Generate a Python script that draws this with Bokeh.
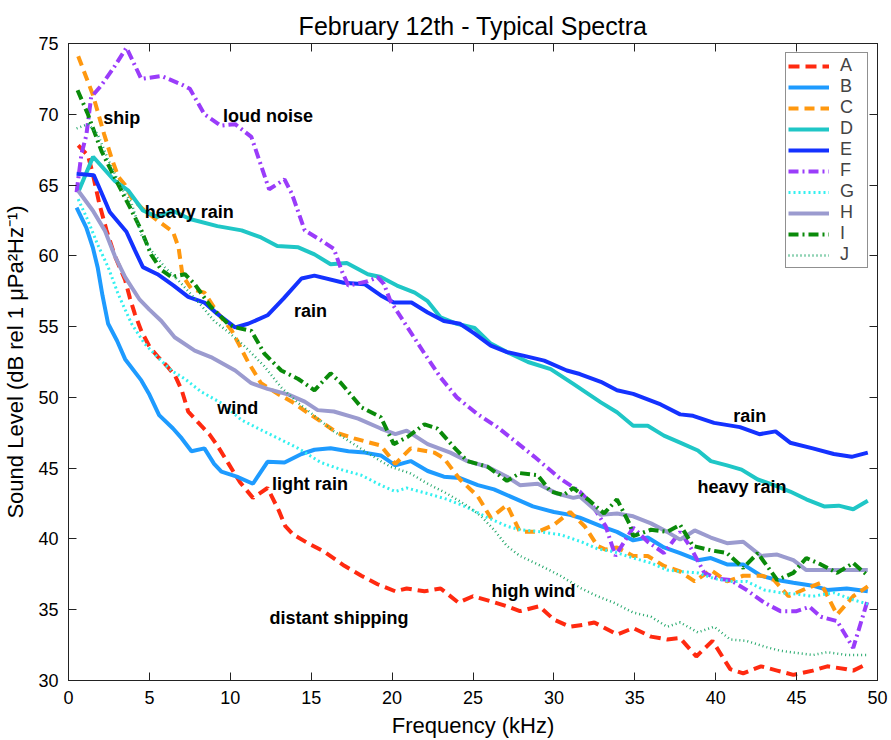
from bokeh.plotting import figure
from bokeh.models import LinearAxis, Range1d, SingleIntervalTicker, Label
from bokeh.embed import file_html
from bokeh.resources import INLINE

TITLE = "February 12th - Typical Spectra"
X_LABEL = "Frequency (kHz)"
Y_LABEL = "Sound Level (dB rel 1 \u03bcPa\u00b2Hz\u207b\u00b9)"

A_freq = [0.6, 1.2, 1.5, 1.9, 2.35, 2.86, 3.5, 3.8, 4.1, 4.5, 5.0, 5.5, 6.1, 6.6, 7.0, 7.4, 8.2, 8.7, 9.2, 9.9,
          10.6, 11.4, 12.3, 13.0, 13.4, 13.9, 14.8, 15.8, 17.05, 18.1, 19.1, 20.2, 20.9, 22.0, 23.0, 24.1, 25.0,
          26.1, 27.1, 27.9, 29.1, 30.0, 31.0, 31.9, 32.5, 33.9, 34.9, 36.0, 37.0, 37.8, 38.8, 39.8, 40.9, 41.7,
          42.8, 43.8, 44.8, 46.0, 46.9, 48.1, 48.5, 49.4]
A_level = [67.8, 67.1, 65.8, 63.7, 61.8, 60.0, 58.3, 57.0, 55.9, 54.7, 53.6, 52.9, 52.2, 51.5, 50.5, 49.0, 48.0, 47.4,
           46.6, 45.3, 44.0, 42.9, 43.6, 42.0, 40.9, 40.3, 39.7, 39.1, 38.1, 37.4, 36.8, 36.3, 36.5, 36.3, 36.5,
           35.5, 35.95, 35.6, 35.25, 34.9, 35.25, 34.3, 33.8, 33.95, 34.1, 33.25, 33.7, 33.1, 32.9, 33.0, 31.7,
           32.8, 30.8, 30.5, 31.0, 30.7, 30.4, 30.7, 31.0, 30.8, 30.7, 31.2]

B_freq = [0.5, 1.1, 1.5, 1.8, 2.1, 2.45, 3.0, 3.5, 4.5, 5.0, 5.6, 6.46, 7.0, 7.6, 8.4, 9.0, 9.45, 10.4, 11.4, 12.3,
          13.35, 14.4, 15.2, 16.2, 17.3, 18.3, 19.3, 20.2, 21.15, 22.2, 23.2, 24.2, 25.3, 26.3, 27.5, 28.7, 30.0,
          31.0, 31.6, 32.9, 33.9, 34.9, 35.8, 36.8, 37.8, 38.9, 39.7, 40.7, 41.7, 42.8, 43.8, 44.8, 46.0, 46.9,
          48.1, 49.4]
B_level = [63.4, 62.0, 60.6, 59.2, 57.2, 55.2, 54.0, 52.7, 51.2, 50.2, 48.75, 47.8, 47.1, 46.2, 46.4, 45.3, 44.75,
           44.4, 43.9, 45.45, 45.4, 46.0, 46.3, 46.4, 46.2, 46.1, 45.9, 45.2, 45.5, 44.8, 44.4, 44.3, 43.8, 43.5,
           42.9, 42.3, 41.9, 41.7, 41.5, 40.9, 40.5, 39.9, 40.1, 39.4, 39.0, 38.5, 38.65, 38.2, 38.2, 37.4, 37.1,
           36.9, 36.7, 36.4, 36.5, 36.3]

C_freq = [0.6, 1.5, 2.2, 2.65, 3.07, 3.5, 3.9, 4.6, 5.5, 6.46, 6.8, 7.05, 7.6, 8.4, 9.2, 10.1, 11.1, 11.9, 13.0,
          13.8, 14.8, 15.6, 16.6, 17.65, 19.3, 20.2, 21.15, 22.6, 23.2, 24.2, 25.3, 26.1, 27.1, 27.9, 29.0, 30.0,
          31.0, 31.9, 32.7, 33.2, 33.9, 34.9, 35.8, 36.8, 37.8, 38.7, 39.7, 40.7, 41.7, 42.9, 43.6, 44.5, 45.6,
          46.5, 47.5, 48.5, 49.4]
C_level = [74.1, 71.4, 68.6, 66.95, 65.6, 65.0, 64.1, 63.3, 62.5, 61.7, 60.6, 58.6, 57.65, 57.4, 56.0, 54.7, 52.5,
           51.0, 50.2, 49.7, 48.9, 48.3, 47.5, 47.1, 46.6, 45.3, 46.4, 46.1, 45.7, 44.2, 43.0, 41.5, 42.4, 40.5,
           40.5, 41.0, 41.9, 40.9, 39.5, 39.25, 39.4, 38.8, 38.8, 38.1, 37.7, 37.0, 37.8, 37.0, 37.4, 37.4, 37.1,
           35.95, 36.5, 36.9, 34.65, 35.95, 36.65]

D_freq = [0.6, 1.52, 2.86, 3.7, 4.6, 5.5, 6.5, 7.5, 9.2, 10.7, 11.9, 12.9, 14.2, 15.2, 16.2, 17.2, 18.5, 19.3, 20.3,
          21.4, 22.2, 23.0, 24.0, 25.1, 26.1, 27.1, 28.4, 29.8, 31.2, 32.9, 33.9, 34.9, 35.8, 36.8, 37.8, 38.9,
          39.7, 40.7, 41.6, 42.6, 43.6, 44.6, 45.6, 46.7, 47.6, 48.5, 49.4]
D_level = [64.5, 67.0, 65.3, 64.6, 63.2, 62.75, 63.15, 62.6, 62.1, 61.8, 61.3, 60.7, 60.6, 60.1, 59.4, 59.5, 58.7,
           58.5, 57.9, 57.4, 56.8, 55.65, 55.2, 54.9, 53.8, 53.2, 52.5, 52.0, 50.95, 49.65, 48.95, 48.0, 48.0,
           47.3, 46.8, 46.25, 45.5, 45.2, 44.9, 44.2, 43.8, 43.35, 42.8, 42.3, 42.35, 42.1, 42.7]

E_freq = [0.5, 1.56, 1.83, 2.55, 3.58, 4.1, 4.6, 5.5, 6.5, 7.4, 8.4, 9.2, 10.3, 11.1, 12.3, 13.3, 14.4, 15.2, 17.0,
          18.3, 19.3, 20.1, 21.2, 22.2, 23.2, 24.2, 25.1, 26.1, 27.1, 28.1, 29.4, 30.8, 31.6, 32.9, 33.9, 34.9,
          36.6, 37.8, 38.6, 39.9, 41.5, 42.7, 43.7, 44.6, 46.0, 47.3, 48.4, 49.4]
E_level = [65.8, 65.7, 65.0, 63.1, 61.7, 60.4, 59.2, 58.7, 57.9, 57.1, 56.7, 55.9, 54.95, 55.2, 55.8, 57.0, 58.4,
           58.6, 58.1, 58.0, 57.2, 56.7, 56.7, 56.0, 55.4, 55.2, 54.5, 53.65, 53.2, 52.95, 52.6, 51.9, 51.65, 51.1,
           50.5, 50.25, 49.5, 48.8, 48.7, 48.2, 47.9, 47.4, 47.6, 46.8, 46.4, 46.0, 45.8, 46.1]

F_freq = [0.5, 0.8, 1.1, 1.4, 2.0, 2.8, 3.58, 4.5, 5.74, 7.0, 7.5, 8.4, 9.4, 10.3, 11.3, 12.4, 13.35, 13.8, 14.6,
          15.6, 16.4, 16.9, 17.3, 18.5, 19.1, 19.5, 19.9, 20.95, 22.0, 23.0, 24.0, 25.3, 26.5, 27.5, 28.8, 30.4,
          31.6, 32.3, 33.2, 33.8, 34.9, 35.8, 36.8, 37.8, 38.4, 39.3, 40.1, 40.9, 41.9, 43.0, 44.0, 45.0, 45.8,
          46.5, 47.5, 48.5, 49.4]
F_level = [64.5, 67.2, 68.5, 71.2, 72.0, 73.3, 74.7, 72.5, 72.7, 72.1, 71.8, 70.0, 69.2, 69.3, 68.4, 64.7, 65.4,
           64.4, 61.8, 61.1, 60.5, 58.9, 57.9, 58.2, 58.5, 58.0, 56.8, 54.95, 53.1, 51.4, 50.0, 48.8, 47.9, 47.0,
           45.8, 44.25, 43.35, 42.5, 40.9, 38.8, 40.8, 39.8, 39.0, 40.5, 39.5, 37.6, 37.2, 37.1, 36.4, 35.5, 34.9,
           34.9, 35.2, 34.5, 34.2, 32.3, 35.7]

G_freq = [0.6, 1.2, 1.8, 2.45, 3.07, 3.5, 3.9, 4.7, 5.5, 6.36, 7.2, 8.2, 9.45, 10.7, 11.9, 13.15, 14.2, 15.6, 16.85,
          18.1, 19.3, 20.2, 20.9, 22.2, 23.4, 24.7, 25.9, 27.1, 27.9, 29.2, 30.4, 31.7, 32.7, 33.7, 34.9, 36.0,
          37.0, 37.8, 38.9, 39.9, 40.9, 41.9, 43.0, 44.0, 45.0, 46.0, 47.3, 48.5, 49.4]
G_level = [64.0, 62.5, 60.8, 59.2, 57.3, 56.2, 55.2, 53.8, 52.85, 51.9, 51.3, 50.4, 49.6, 48.4, 47.7, 47.0, 46.4,
           45.4, 44.9, 44.5, 43.8, 43.35, 43.6, 43.2, 42.8, 42.2, 41.5, 40.9, 40.65, 40.5, 40.3, 39.8, 39.3, 39.1,
           38.65, 38.3, 37.8, 37.7, 37.6, 37.2, 37.0, 37.0, 36.4, 36.2, 36.1, 35.95, 36.2, 35.7, 35.4]

H_freq = [0.6, 1.5, 2.24, 2.86, 3.5, 4.4, 5.0, 5.74, 6.56, 7.8, 8.8, 10.3, 11.3, 12.3, 13.6, 14.6, 15.4, 16.4, 17.9,
          19.3, 20.2, 20.9, 22.2, 23.6, 24.65, 25.9, 27.1, 27.9, 29.0, 30.2, 31.2, 31.6, 32.9, 33.9, 34.9, 36.0,
          37.0, 37.8, 38.7, 39.7, 40.7, 41.7, 42.8, 43.8, 44.8, 45.6, 46.9, 48.1, 49.4]
H_level = [64.6, 63.2, 61.8, 60.0, 58.5, 56.9, 56.2, 55.4, 54.25, 53.3, 52.85, 51.9, 51.0, 50.6, 50.2, 49.7, 49.1,
           49.0, 48.5, 47.8, 47.4, 47.65, 46.7, 46.1, 45.5, 45.1, 44.4, 43.8, 43.9, 43.2, 42.9, 43.0, 41.7, 41.8,
           41.6, 41.1, 40.5, 39.95, 40.6, 40.1, 39.7, 39.8, 38.8, 38.9, 38.5, 37.8, 37.8, 37.8, 37.8]

I_freq = [0.56, 1.2, 1.42, 2.04, 2.65, 3.27, 3.9, 4.5, 5.1, 5.74, 6.36, 7.2, 7.8, 8.8, 9.86, 10.3, 11.3, 12.1, 13.15,
          14.2, 15.2, 16.2, 16.85, 18.1, 19.3, 20.1, 20.95, 22.0, 22.8, 23.8, 24.65, 25.9, 27.1, 27.9, 29.0, 29.8,
          30.6, 31.2, 32.1, 33.1, 33.9, 34.7, 34.9, 36.0, 37.0, 37.8, 38.6, 39.7, 40.7, 41.7, 42.6, 43.8, 44.8,
          45.6, 46.5, 47.5, 48.5, 49.4]
I_level = [71.7, 70.0, 69.3, 67.4, 66.0, 64.6, 63.2, 61.8, 60.1, 59.0, 58.5, 58.7, 58.0, 56.4, 55.2, 54.95, 54.7,
           53.1, 51.9, 51.3, 50.5, 51.7, 51.0, 49.3, 48.6, 46.7, 47.2, 48.1, 47.8, 46.5, 45.5, 45.1, 44.1, 44.65,
           44.5, 43.35, 43.1, 43.6, 42.8, 41.8, 42.8, 41.0, 40.2, 40.65, 40.5, 41.0, 39.5, 39.2, 39.0, 37.95, 39.0,
           37.1, 37.6, 38.65, 38.2, 37.6, 38.3, 37.4]

J_freq = [0.5, 1.2, 1.8, 2.45, 3.27, 3.9, 4.5, 5.1, 5.95, 6.8, 7.4, 8.2, 9.0, 9.9, 10.9, 12.1, 13.15, 14.2, 15.2,
          16.4, 17.9, 19.3, 19.9, 21.1, 22.2, 23.4, 24.7, 25.5, 26.3, 27.1, 27.9, 29.2, 30.4, 31.7, 32.7, 33.7,
          34.9, 36.0, 37.0, 37.8, 38.9, 39.9, 40.9, 41.9, 43.0, 44.0, 45.0, 46.0, 46.9, 48.1, 49.4]
J_level = [69.0, 69.3, 68.6, 66.8, 64.8, 63.7, 61.5, 60.4, 59.2, 58.25, 57.5, 56.5, 55.4, 54.6, 53.6, 52.2, 50.7,
           49.6, 48.7, 47.6, 46.5, 45.5, 45.1, 44.65, 43.9, 43.2, 42.3, 41.6, 40.65, 39.5, 38.8, 38.1, 37.4, 36.5,
           35.95, 35.5, 34.8, 34.5, 33.8, 34.1, 33.4, 33.8, 32.9, 32.8, 32.4, 32.1, 31.95, 31.8, 32.0, 31.8, 31.8]

SERIES = [
    ("A", A_freq, A_level), ("B", B_freq, B_level), ("C", C_freq, C_level), ("D", D_freq, D_level),
    ("E", E_freq, E_level), ("F", F_freq, F_level), ("G", G_freq, G_level), ("H", H_freq, H_level),
    ("I", I_freq, I_level), ("J", J_freq, J_level),
]

ANNOTATIONS = ["ship", "loud noise", "heavy rain", "rain", "wind", "light rain",
               "distant shipping", "high wind", "rain", "heavy rain"]

# styles (colour, width, dash)
STYLES = {
    "A": ("#ff2a10", 4.0, "11 6"),
    "B": ("#1e9bff", 4.0, "solid"),
    "C": ("#ff980f", 4.0, "10 6"),
    "D": ("#1fc6c6", 4.0, "solid"),
    "E": ("#1432ff", 4.0, "solid"),
    "F": ("#9a3cfa", 4.0, "10 4 2 4"),
    "G": ("#33f0f0", 3.0, "2 3"),
    "H": ("#9b9bcf", 4.0, "solid"),
    "I": ("#0a8a0a", 4.0, "10 4 2 4"),
    "J": ("#23a86b", 2.5, "1 3"),
}
# annotation anchor positions (data units, left / baseline)
ANN_POS = [(2.14, 69.74), (9.55, 69.9), (4.71, 63.08), (13.93, 56.08), (9.2, 49.22), (12.57, 43.88),
           (12.43, 34.41), (26.15, 36.35), (41.09, 48.67), (38.87, 43.65)]

FONT = "Liberation Sans"

p = figure(width=891, height=740, x_range=Range1d(0, 50), y_range=Range1d(30, 75),
           output_backend="svg", toolbar_location=None,
           min_border_left=67, min_border_right=14, min_border_top=43, min_border_bottom=59)
p.grid.visible = False
p.outline_line_color = "#222222"
p.outline_line_width = 1
p.background_fill_color = "white"
p.border_fill_color = "white"

p.title.text = TITLE
p.title.text_font = FONT
p.title.text_font_size = "25px"
p.title.text_font_style = "normal"
p.title.align = "center"
p.title.text_color = "black"
p.title.standoff = 0

p.add_layout(LinearAxis(), "above")
p.add_layout(LinearAxis(), "right")


def style_axis(ax, show_labels):
    ax.ticker = SingleIntervalTicker(interval=5)
    ax.minor_tick_line_color = None
    ax.major_tick_in = 8
    ax.major_tick_out = 0
    ax.axis_line_color = "#222222"
    ax.major_tick_line_color = "#222222"
    ax.major_label_text_font = FONT
    if show_labels:
        ax.major_label_text_color = "black"
        ax.major_label_text_font_size = "18px"
        ax.major_label_standoff = 6
        ax.axis_label_text_font = FONT
        ax.axis_label_text_font_size = "22px"
        ax.axis_label_text_font_style = "normal"
        ax.axis_label_text_color = "black"
    else:
        ax.major_label_text_color = None
        ax.major_label_text_font_size = "1px"
        ax.major_label_standoff = 0


for ax in p.below:
    style_axis(ax, True)
    ax.axis_label = X_LABEL
    ax.axis_label_standoff = 6
for ax in p.left:
    style_axis(ax, True)
    ax.axis_label = Y_LABEL
    ax.axis_label_standoff = 7
for ax in p.above + p.right:
    style_axis(ax, False)

for name, fr, lv in SERIES:
    color, width, dash = STYLES[name]
    p.line(fr, lv, line_color=color, line_width=width, line_dash=dash, legend_label=name)

for text, (x, y) in zip(ANNOTATIONS, ANN_POS):
    p.add_layout(Label(x=x, y=y, text=text, text_font=FONT, text_font_style="bold",
                       text_font_size="18px", text_baseline="alphabetic", text_align="left",
                       text_color="black"))

lg = p.legend[0]
lg.location = "top_right"
lg.margin = 9
lg.padding = 2
lg.spacing = 0
lg.glyph_width = 41
lg.glyph_height = 20
lg.label_height = 20
lg.label_width = 25
lg.label_standoff = 11
lg.label_text_font = FONT
lg.label_text_font_size = "18px"
lg.border_line_color = "#222222"
lg.border_line_width = 1
lg.background_fill_alpha = 1.0

open("out.html", "w").write(file_html(p, INLINE))
